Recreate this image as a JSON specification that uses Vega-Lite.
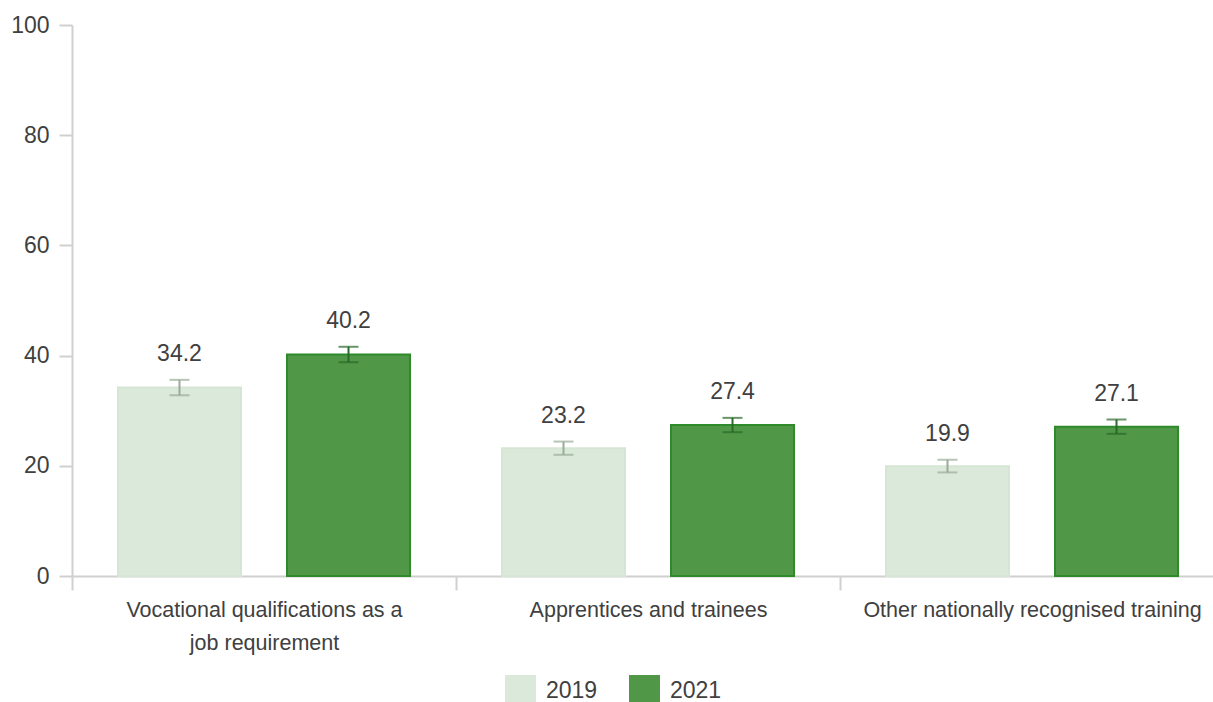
{
  "$schema": "https://vega.github.io/schema/vega-lite/v6.json",
  "autosize": {"type": "none"},
  "padding": {"left": 72, "top": 25, "right": 0, "bottom": 126},
  "width": 1141,
  "height": 551,
  "background": "white",
  "config": {
    "font": "Liberation Sans",
    "view": {"stroke": null}
  },
  "data": {
    "values": [
      {"category": "Vocational qualifications as a job requirement", "year": "2019", "value": 34.2, "lo": 32.8, "hi": 35.6},
      {"category": "Vocational qualifications as a job requirement", "year": "2021", "value": 40.2, "lo": 38.8, "hi": 41.6},
      {"category": "Apprentices and trainees", "year": "2019", "value": 23.2, "lo": 22.0, "hi": 24.4},
      {"category": "Apprentices and trainees", "year": "2021", "value": 27.4, "lo": 26.1, "hi": 28.7},
      {"category": "Other nationally recognised training", "year": "2019", "value": 19.9, "lo": 18.8, "hi": 21.1},
      {"category": "Other nationally recognised training", "year": "2021", "value": 27.1, "lo": 25.8, "hi": 28.4}
    ]
  },
  "encoding": {
    "x": {
      "field": "category",
      "type": "nominal",
      "sort": null,
      "scale": {"range": [0, 1152], "paddingInner": 0, "paddingOuter": 0},
      "axis": {
        "title": null,
        "labelAngle": 0,
        "labelFontSize": 21.5,
        "labelColor": "#404040",
        "labelLineHeight": 33,
        "labelPadding": 9,
        "labelExpr": "datum.label == 'Vocational qualifications as a job requirement' ? ['Vocational qualifications as a', 'job requirement'] : datum.label",
        "tickBand": "extent",
        "tickSize": 14,
        "tickWidth": 2,
        "tickColor": "#d0d0d0",
        "domainColor": "#d0d0d0",
        "domainWidth": 2,
        "labelLimit": 400
      }
    },
    "xOffset": {
      "field": "year",
      "type": "nominal",
      "scale": {"paddingInner": 0.272, "paddingOuter": 0.272}
    }
  },
  "layer": [
    {
      "mark": {"type": "bar", "strokeWidth": 2},
      "encoding": {
        "y": {
          "field": "value",
          "type": "quantitative",
          "scale": {"domain": [0, 100], "nice": false},
          "axis": {
            "title": null,
            "values": [0, 20, 40, 60, 80, 100],
            "grid": false,
            "tickSize": 13,
            "tickWidth": 2,
            "tickColor": "#d0d0d0",
            "domainColor": "#d0d0d0",
            "domainWidth": 2,
            "labelFontSize": 23,
            "labelColor": "#404040",
            "labelPadding": 10
          }
        },
        "fill": {
          "field": "year",
          "type": "nominal",
          "scale": {"domain": ["2019", "2021"], "range": ["#dbe9da", "#509848"]},
          "legend": {
            "title": null,
            "orient": "none",
            "legendX": 433,
            "legendY": 650,
            "direction": "horizontal",
            "symbolType": "square",
            "symbolSize": 961,
            "symbolStrokeWidth": 0,
            "labelFontSize": 23,
            "labelColor": "#404040",
            "labelOffset": 10,
            "columnPadding": 31
          }
        },
        "stroke": {
          "field": "year",
          "type": "nominal",
          "scale": {"domain": ["2019", "2021"], "range": ["#d6e6d4", "#2f8a2b"]},
          "legend": null
        }
      }
    },
    {
      "mark": {"type": "rule", "strokeWidth": 2},
      "encoding": {
        "y": {"field": "lo", "type": "quantitative"},
        "y2": {"field": "hi"},
        "stroke": {
          "field": "year",
          "type": "nominal",
          "scale": {"domain": ["2019", "2021"], "range": ["#9aab99", "#2a6a28"]},
          "legend": null
        }
      }
    },
    {
      "mark": {"type": "tick", "size": 20, "thickness": 2},
      "encoding": {
        "y": {"field": "lo", "type": "quantitative"},
        "color": {
          "field": "year",
          "type": "nominal",
          "scale": {"domain": ["2019", "2021"], "range": ["#9aab99", "#2a6a28"]},
          "legend": null
        }
      }
    },
    {
      "mark": {"type": "tick", "size": 20, "thickness": 2},
      "encoding": {
        "y": {"field": "hi", "type": "quantitative"},
        "color": {
          "field": "year",
          "type": "nominal",
          "scale": {"domain": ["2019", "2021"], "range": ["#9aab99", "#2a6a28"]},
          "legend": null
        }
      }
    },
    {
      "mark": {"type": "text", "fontSize": 23, "color": "#404040", "baseline": "middle", "dy": -26},
      "encoding": {
        "y": {"field": "hi", "type": "quantitative"},
        "text": {"field": "value", "type": "quantitative", "format": ".1f"}
      }
    }
  ],
  "resolve": {"scale": {"stroke": "independent"}}
}
